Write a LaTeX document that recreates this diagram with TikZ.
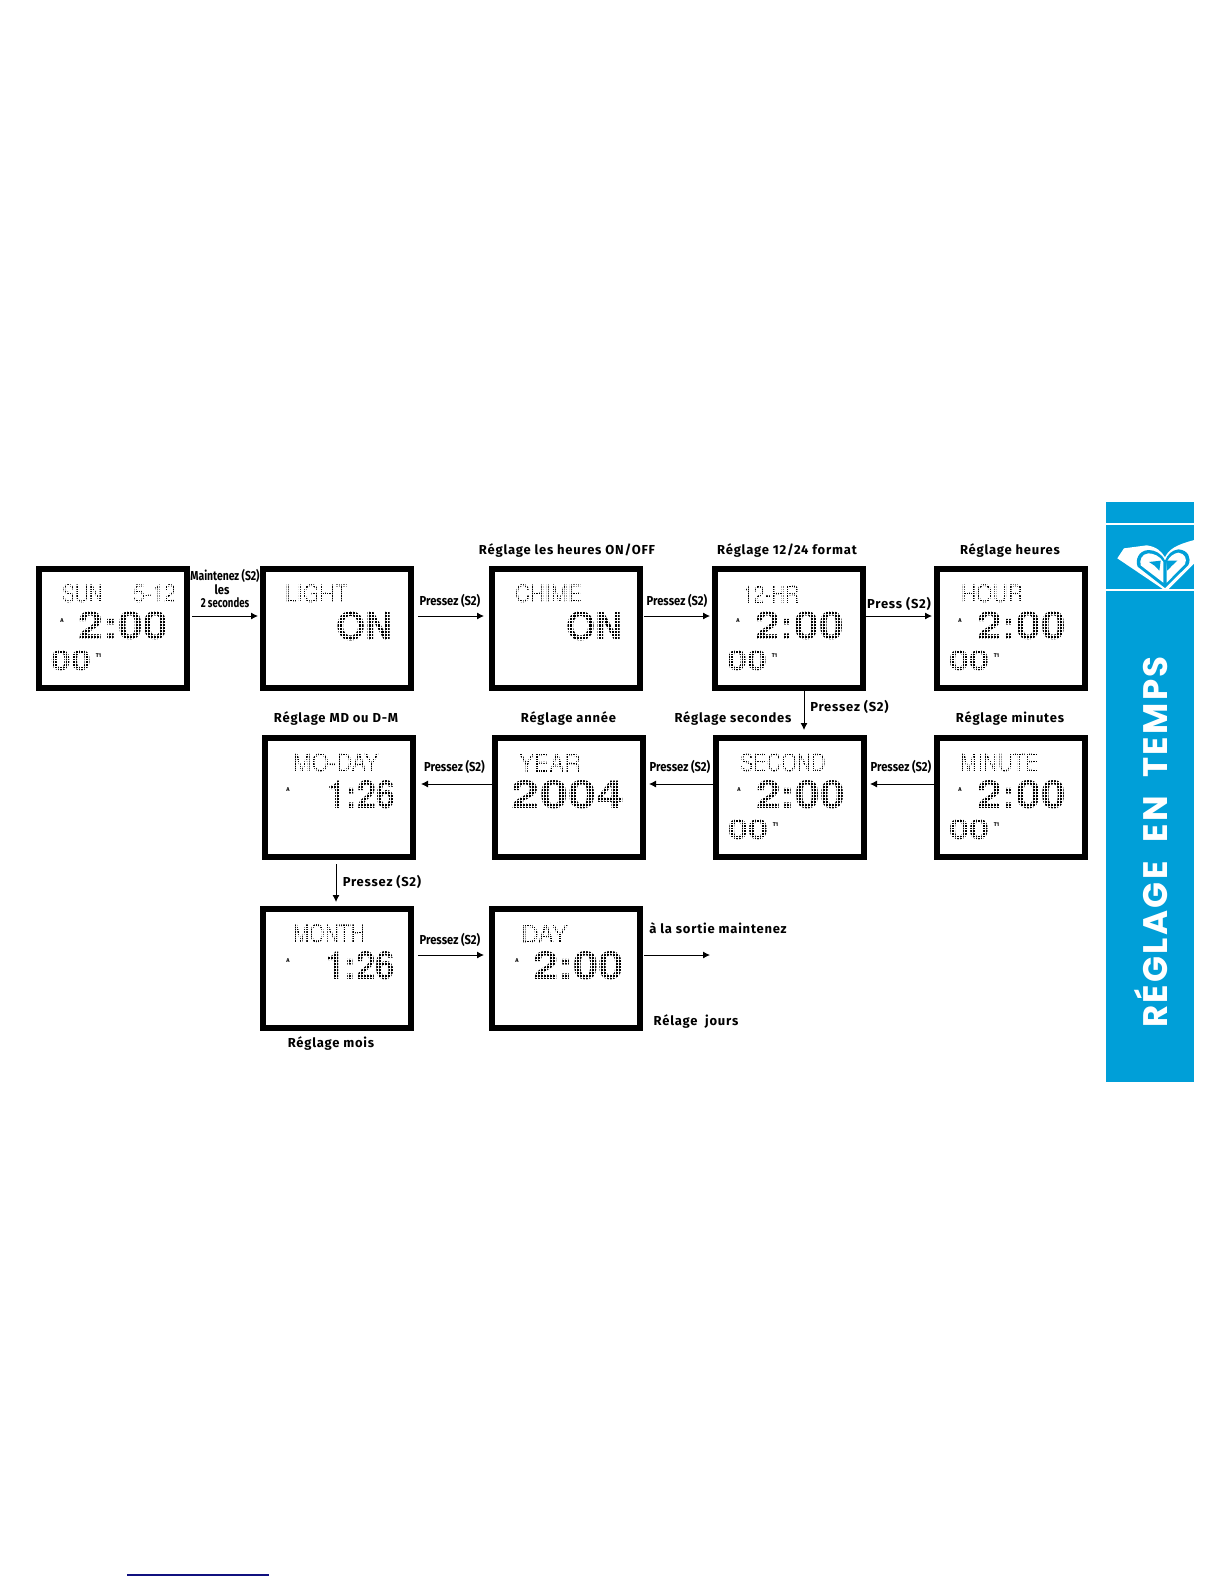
\documentclass[tikz,border=0pt]{standalone}
\usepackage{fontspec}
\setmainfont{Fira Sans}
\newfontfamily\lcdfont{TeX Gyre Heros}
\newfontfamily\labelfont[LetterSpace=6]{Fira Sans}
\newfontfamily\titlefont[LetterSpace=7]{Poppins}
\usetikzlibrary{arrows.meta,patterns.meta,calc}
\definecolor{sidebar}{HTML}{009FD8}
\definecolor{rulenavy}{HTML}{10107F}
\tikzset{
  screen/.style={draw,line width=6pt,minimum width=148pt,minimum height=119pt,inner sep=0pt},
  lab/.style={inner sep=0pt,font=\fontsize{13}{15}\labelfont\bfseries},
  lab narrow/.style={inner sep=0pt,font=\fontsize{13}{15}\selectfont\bfseries,xscale=0.86},
  flow/.style={-{Latex[length=7pt,width=7pt]},line width=0.9pt},
  lcd/.style={inner sep=0pt,font=\lcdfont},
  tiny lcd/.style={inner sep=0pt,font=\fontsize{5.5}{6}\selectfont\bfseries},
}
% dots over a word: #1 name, #2 position, #3 width, #4 height, #5 text, #6 pitch, #7 gap
\newcommand{\lcdword}[7]{
  \node[lcd] (#1) at (#2) {\resizebox{#3pt}{#4pt}{#5}};
  \fill[pattern={Lines[angle=0,distance=#6pt,line width=#7pt]},pattern color=white] (#1.south west) rectangle (#1.north east);
  \fill[pattern={Lines[angle=90,distance=#6pt,line width=#7pt]},pattern color=white] (#1.south west) rectangle (#1.north east);
}
\newcommand{\clockface}[1]{
  \lcdword{#1time}{$(#1.center)+(10.5,-2.5)$}{89}{28}{\textbf{2:00}}{3}{1}
  \lcdword{#1sec}{$(#1.center)+(-42,32.5)$}{40}{20}{\textbf{00}}{2.6}{1}
  \node[tiny lcd] (#1am) at ($(#1.center)+(-51,-7.5)$) {A};
  \node[tiny lcd] (#1tag) at ($(#1.center)+(-14.5,27.5)$) {T1};
}
\begin{document}
\begin{tikzpicture}[x=1pt,y=-1pt]
\useasboundingbox (0,0) rectangle (1224,1584);

\node[screen] (sun) at (113,628.5) {};
\node[screen] (light) at (337,628.5) {};
\node[screen] (chime) at (566,628.5) {};
\node[screen] (hr) at (789,628.5) {};
\node[screen] (hour) at (1011,628.5) {};
\node[screen] (mday) at (339,797.5) {};
\node[screen] (year) at (569,797.5) {};
\node[screen] (second) at (790,797.5) {};
\node[screen] (minute) at (1011,797.5) {};
\node[screen] (month) at (337,968.5) {};
\node[screen] (day) at (566,968.5) {};

\lcdword{sunname}{82.5,594}{41}{18}{SUN}{2.3}{1}
\lcdword{sundate}{154.5,594}{43}{18}{5-12}{2.3}{1}
\clockface{sun}
\lcdword{lightname}{316.5,594}{63}{18}{LIGHT}{2.3}{1}
\lcdword{lighton}{364,626.5}{56}{29}{\textbf{ON}}{3.2}{1}
\lcdword{chimename}{548.5,594}{67}{18}{CHIME}{2.3}{1}
\lcdword{chimeon}{594,626.5}{56}{29}{\textbf{ON}}{3.2}{1}
\lcdword{hrname}{771,594}{56}{18}{12-HR}{2.3}{1}
\clockface{hr}
\lcdword{hourname}{992,594}{62}{18}{HOUR}{2.3}{1}
\clockface{hour}
\lcdword{secondname}{783,763}{86}{18}{SECOND}{2.3}{1}
\clockface{second}
\lcdword{minutename}{999.5,763}{79}{18}{MINUTE}{2.3}{1}
\clockface{minute}
\lcdword{yearname}{550,763}{62}{18}{YEAR}{2.3}{1}
\lcdword{yearnum}{568,795}{112}{28}{\textbf{2004}}{3}{1}
\lcdword{mdayname}{336,763}{86}{18}{MO-DAY}{2.3}{1}
\lcdword{mdaynum}{361,795}{68}{28}{\textbf{1:26}}{3}{1}
\node[tiny lcd] (mdayam) at (288,790) {A};
\lcdword{monthname}{329,934}{72}{18}{MONTH}{2.3}{1}
\lcdword{monthnum}{360,966}{70}{28}{\textbf{1:26}}{3}{1}
\node[tiny lcd] (monthrm) at (288,961) {A};
\lcdword{dayname}{544.5,934}{47}{18}{DAY}{2.3}{1}
\lcdword{daynum}{578.5,966}{91}{28}{\textbf{2:00}}{3}{1}
\node[tiny lcd] (dayam) at (517,961) {A};

\coordinate (exit) at (710,955);
\draw[flow,shorten <=2pt,shorten >=2pt] ([yshift=12.5pt]sun.east) -- ([yshift=12.5pt]light.west);
\draw[flow,shorten <=4pt,shorten >=5pt] ([yshift=12.5pt]light.east) -- ([yshift=12.5pt]chime.west);
\draw[flow,shorten <=1pt,shorten >=2pt] ([yshift=12.5pt]chime.east) -- ([yshift=12.5pt]hr.west);
\draw[flow,shorten >=2pt] ([yshift=12.5pt]hr.east) -- ([yshift=12.5pt]hour.west);
\draw[flow,shorten >=5pt] ([xshift=15pt]hr.south) -- ([xshift=14pt]second.north);
\draw[flow,shorten >=3pt] ([yshift=13.5pt]minute.west) -- ([yshift=13.5pt]second.east);
\draw[flow,shorten >=3pt] ([yshift=13.5pt]second.west) -- ([yshift=13.5pt]year.east);
\draw[flow,shorten >=5pt] ([yshift=13.5pt]year.west) -- ([yshift=13.5pt]mday.east);
\draw[flow,shorten <=4pt,shorten >=4pt] ([xshift=-3pt]mday.south) -- ([xshift=-1pt]month.north);
\draw[flow,shorten <=4pt,shorten >=5pt] ([yshift=13.5pt]month.east) -- ([yshift=13.5pt]day.west);
\draw[flow,shorten <=1pt] ([yshift=13.5pt]day.east) -- (exit);

\node[lab narrow,xscale=0.93] (hold) at (225,576) {Maintenez (S2)};
\node[lab narrow] (holdb) at (222,590) {les};
\node[lab narrow,xscale=0.86] (holdc) at (225,603) {2 secondes};
\node[lab narrow] (p1) at (450,601) {Pressez (S2)};
\node[lab narrow] (p2) at (677,601) {Pressez (S2)};
\node[lab] (p3) at (899,604) {Press (S2)};
\node[lab] (p4) at (849.5,707) {Pressez (S2)};
\node[lab narrow] (p5) at (901,766.5) {Pressez (S2)};
\node[lab narrow] (p6) at (680,766.5) {Pressez (S2)};
\node[lab narrow] (p7) at (454.5,766.5) {Pressez (S2)};
\node[lab] (p8) at (382,882) {Pressez (S2)};
\node[lab narrow] (p9) at (450,940) {Pressez (S2)};
\node[lab] (t1) at (567,550.5) {Réglage les heures ON/OFF};
\node[lab] (t2) at (787,550.5) {Réglage 12/24 format};
\node[lab] (t3) at (1010,550.5) {Réglage heures};
\node[lab] (t4) at (336,718.5) {Réglage MD ou D-M};
\node[lab] (t5) at (568.5,718.5) {Réglage année};
\node[lab] (t6) at (733,718.5) {Réglage secondes};
\node[lab] (t7) at (1010,718.5) {Réglage minutes};
\node[lab] (t8) at (331,1043.5) {Réglage mois};
\node[lab] (t9) at (718,928) {à la sortie maintenez};
\node[lab] (t10) at (696,1021.5) {Rélage\ \ jours};

\fill[sidebar] (1106,502) rectangle (1194,1082);
\draw[white,line width=1.5pt] (1106,524) -- (1194,524);
\draw[white,line width=1.5pt] (1106,590) -- (1194,590);
\begin{scope}[shift={(1100,500)},scale=1/3]
\fill[white] (52,175) -- (72,145) -- (140,136) .. controls (170,140) and (185,155) .. (195,172) .. controls (205,150) and (225,135) .. (283,120) -- (283,190) -- (205,268) -- (190,268) -- cycle;
\fill[sidebar] (195,182) .. controls (185,160) and (165,150) .. (145,150) .. controls (115,152) and (105,180) .. (113,200) -- (195,264) -- (265,195) .. controls (275,175) and (265,150) .. (235,148) .. controls (215,150) and (202,165) .. (195,182) -- cycle;
\fill[white] (190,186) .. controls (180,168) and (160,160) .. (145,160) .. controls (125,162) and (118,180) .. (122,196) -- (190,248) -- cycle;
\fill[white] (200,186) .. controls (210,168) and (222,160) .. (235,158) .. controls (255,160) and (262,178) .. (255,192) -- (200,248) -- cycle;
\fill[sidebar] (147,186) -- (182,182) -- (178,212) -- (165,198) -- cycle;
\fill[sidebar] (232,182) -- (198,182) -- (202,212) -- (215,198) -- cycle;
\end{scope}
\node[white,rotate=90,inner sep=0pt,anchor=base,font=\fontsize{34}{38}\titlefont\bfseries] (title) at (1167,842) {RÉGLAGE\hspace{0.55em}EN\hspace{0.55em}TEMPS};

\coordinate (rulea) at (127,1575);
\coordinate (ruleb) at (269,1575);
\draw[rulenavy,line width=1.3pt] (rulea) -- (ruleb);
\end{tikzpicture}
\end{document}
